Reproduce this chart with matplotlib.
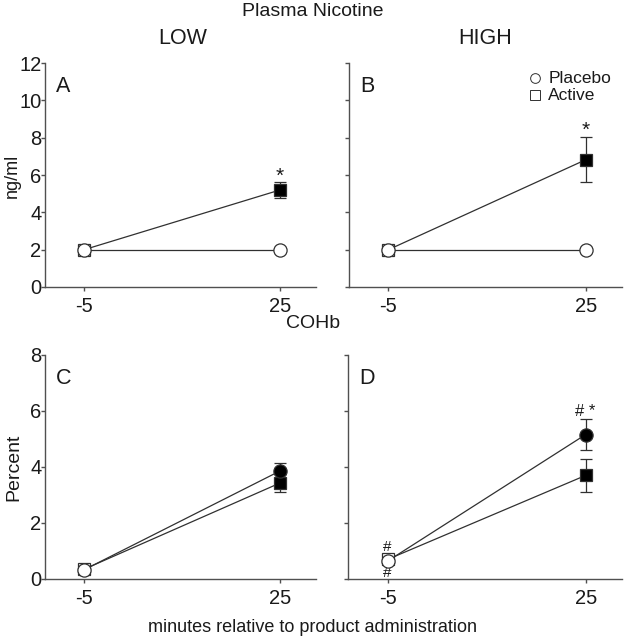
import matplotlib
matplotlib.use("Agg")
import matplotlib.pyplot as plt

plt.rcParams["font.family"] = ["Liberation Sans", "DejaVu Sans"]

# time points (minutes relative to product administration)
times = [-5, 25]

# panel A: plasma nicotine, LOW
a_placebo = [2.0, 2.0]
a_placebo_err = [0.0, 0.0]
a_active = [2.0, 5.2]
a_active_err = [0.0, 0.43]

# panel B: plasma nicotine, HIGH
b_placebo = [2.0, 2.0]
b_placebo_err = [0.0, 0.0]
b_active = [2.0, 6.82]
b_active_err = [0.0, 1.2]

# panel C: COHb, LOW
c_placebo = [0.33, 3.86]
c_placebo_err = [0.05, 0.3]
c_active = [0.35, 3.43]
c_active_err = [0.05, 0.33]

# panel D: COHb, HIGH
d_placebo = [0.64, 5.16]
d_placebo_err = [0.05, 0.57]
d_active = [0.7, 3.7]
d_active_err = [0.05, 0.58]

# which points are drawn filled (False = open marker)
a_fill = ([False, False], [False, True])
b_fill = ([False, False], [False, True])
c_fill = ([False, True], [False, True])
d_fill = ([False, True], [False, True])

legend_labels = ["Placebo", "Active"]
legend_markers = ["o", "s"]

W, H = 626, 639
fig = plt.figure(figsize=(W / 100, H / 100), dpi=100)

LINE = "#303030"
SPINE = "#505050"
TEXT = "#1a1a1a"


def px_axes(x0, y0, x1, y1):
    return fig.add_axes([x0 / W, 1 - y1 / H, (x1 - x0) / W, (y1 - y0) / H])


def draw_panel(ax, placebo, placebo_err, active, active_err, fills, ylim, yticks, show_labels, letter):
    # active first so the circle sits on top at baseline
    for vals, errs, marker, ms, filled in [
        (active, active_err, "s", 8.5, fills[1]),
        (placebo, placebo_err, "o", 9.5, fills[0]),
    ]:
        ax.errorbar(times, vals, yerr=errs, color=LINE, lw=0.9, capsize=4,
                    elinewidth=0.9, capthick=0.9, fmt="none", zorder=2)
        ax.plot(times, vals, color=LINE, lw=0.9, zorder=3)
        for t, v, f in zip(times, vals, filled):
            ax.plot(t, v, marker=marker, ms=ms, mec=LINE, mew=0.9,
                    mfc="black" if f else "white", zorder=4, ls="none")
    ax.set_xlim(-11, 30.5)
    ax.set_ylim(*ylim)
    ax.set_yticks(yticks)
    ax.set_xticks(times)
    ax.set_xticklabels(["-5", "25"])
    if not show_labels:
        ax.set_yticklabels([])
    for s in ["top", "right"]:
        ax.spines[s].set_visible(False)
    for s in ["left", "bottom"]:
        ax.spines[s].set_color(SPINE)
        ax.spines[s].set_linewidth(1.0)
    ax.tick_params(axis="both", colors=SPINE, labelcolor=TEXT,
                   labelsize=14.5, length=3, width=1.0, direction="out")
    ax.tick_params(axis="y", pad=-0.5)
    ax.tick_params(axis="x", pad=4)
    ax.text(0.04, 0.94, letter, transform=ax.transAxes, fontsize=15.5,
            ha="left", va="top", color=TEXT)


ax_a = px_axes(45, 63, 316, 287)
ax_b = px_axes(349, 63, 622, 287)
ax_c = px_axes(45, 355, 316, 579)
ax_d = px_axes(348, 355, 622, 579)

draw_panel(ax_a, a_placebo, a_placebo_err, a_active, a_active_err, a_fill,
           (0, 12), range(0, 13, 2), True, "A")
draw_panel(ax_b, b_placebo, b_placebo_err, b_active, b_active_err, b_fill,
           (0, 12), range(0, 13, 2), False, "B")
draw_panel(ax_c, c_placebo, c_placebo_err, c_active, c_active_err, c_fill,
           (0, 8), range(0, 9, 2), True, "C")
draw_panel(ax_d, d_placebo, d_placebo_err, d_active, d_active_err, d_fill,
           (0, 8), range(0, 9, 2), False, "D")

fig.text(12 / W, 1 - 176 / H, "ng/ml", rotation=90, ha="center", va="center",
         fontsize=13, color=TEXT)
fig.text(14 / W, 1 - 467 / H, "Percent", rotation=90, ha="center", va="center",
         fontsize=14, color=TEXT)

# significance marks
ax_a.text(25, 5.95, "*", ha="center", va="center", fontsize=15, color=TEXT)
ax_b.text(25, 8.37, "*", ha="center", va="center", fontsize=15, color=TEXT)
ax_d.text(25, 6.0, "# *", ha="center", va="center", fontsize=12, color=TEXT)
ax_d.text(-5, 1.15, "#", ha="center", va="center", fontsize=11, color=TEXT)
ax_d.text(-5, 0.2, "#", ha="center", va="center", fontsize=11, color=TEXT)

# legend, drawn by hand in panel B (open symbols, text to the right)
for i, (lab, mk) in enumerate(zip(legend_labels, legend_markers)):
    y = 0.932 - i * 0.076
    ax_b.plot([0.68], [y], transform=ax_b.transAxes, marker=mk,
              ms=7.0 if mk == "o" else 6.8, mfc="white", mec=LINE, mew=0.7,
              ls="none", clip_on=False, zorder=5)
    ax_b.text(0.73, y, lab, transform=ax_b.transAxes, ha="left", va="center",
              fontsize=12.5, color=TEXT)

fig.text(313 / W, 1 - 12 / H, "Plasma Nicotine", ha="center", va="center", fontsize=14, color=TEXT)
fig.text(183 / W, 1 - 39 / H, "LOW", ha="center", va="center", fontsize=15.5, color=TEXT)
fig.text(485 / W, 1 - 39 / H, "HIGH", ha="center", va="center", fontsize=15.5, color=TEXT)
fig.text(313 / W, 1 - 324 / H, "COHb", ha="center", va="center", fontsize=14, color=TEXT)
fig.text(313 / W, 1 - 627 / H, "minutes relative to product administration",
         ha="center", va="center", fontsize=13, color=TEXT)

fig.savefig("out.png", dpi=100)
